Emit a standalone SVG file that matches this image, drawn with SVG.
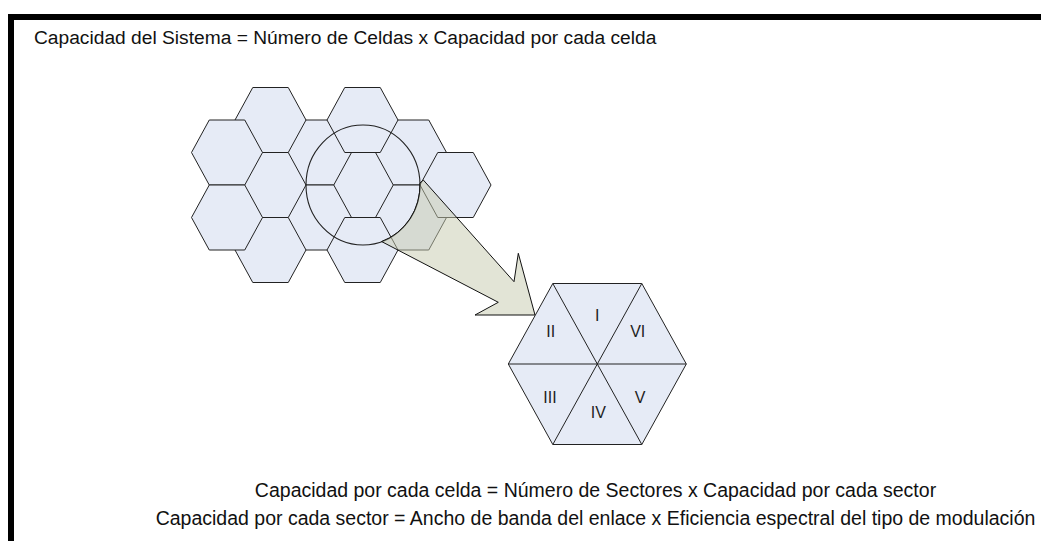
<svg xmlns="http://www.w3.org/2000/svg" xmlns:xlink="http://www.w3.org/1999/xlink" width="1041" height="541" viewBox="0 0 1041 541">
<style>
.hex{fill:#e6ebf6;stroke:#222;stroke-width:1;stroke-linejoin:miter}
.txt{font-family:"Liberation Sans",Arial,sans-serif;font-size:19.5px;fill:#111}
.ttl{font-size:19.2px}
.lbl{font-family:"Liberation Sans",Arial,sans-serif;font-size:16px;fill:#222;text-anchor:middle}
.arrow{fill:#c5c9ad;fill-opacity:0.5;stroke:#111;stroke-width:1;stroke-linejoin:miter}
.ring{fill:none;stroke:#222;stroke-width:1.1}
.frame{fill:none;stroke:#000;stroke-width:6;stroke-linejoin:miter}
</style>
<defs>
<polygon id="hx" points="-35.5,0 -17.75,-32.5 17.75,-32.5 35.5,0 17.75,32.5 -17.75,32.5"/>
</defs>
<rect width="1041" height="541" fill="#fff"/>
<g id="cells">
<g id="cell-d2"><use xlink:href="#hx" href="#hx" class="hex" x="362.5" y="185"/></g>
<g id="cell-c1"><use xlink:href="#hx" href="#hx" class="hex" x="316" y="152.5"/></g>
<g id="cell-c2"><use xlink:href="#hx" href="#hx" class="hex" x="316" y="217.5"/></g>
<g id="cell-e1"><use xlink:href="#hx" href="#hx" class="hex" x="411" y="152.5"/></g>
<g id="cell-e2"><use xlink:href="#hx" href="#hx" class="hex" x="411" y="217.5"/></g>
<g id="cell-d1"><use xlink:href="#hx" href="#hx" class="hex" x="362.5" y="120"/></g>
<g id="cell-d3"><use xlink:href="#hx" href="#hx" class="hex" x="362.5" y="250"/></g>
<g id="cell-b1"><use xlink:href="#hx" href="#hx" class="hex" x="270.5" y="120"/></g>
<g id="cell-b2"><use xlink:href="#hx" href="#hx" class="hex" x="270.5" y="185"/></g>
<g id="cell-b3"><use xlink:href="#hx" href="#hx" class="hex" x="270.5" y="250"/></g>
<g id="cell-a1"><use xlink:href="#hx" href="#hx" class="hex" x="227" y="152.5"/></g>
<g id="cell-a2"><use xlink:href="#hx" href="#hx" class="hex" x="227" y="217.5"/></g>
<g id="cell-f1"><use xlink:href="#hx" href="#hx" class="hex" x="455.5" y="185"/></g>
</g>
<g id="cluster-ring"><ellipse class="ring" cx="363" cy="185" rx="57" ry="60"/></g>
<g id="connectors">
<path class="arrow" d="M423.3,180 L514,281.7 L518.3,253.3 L535,315 L475,315 L498.3,302.3 L381.5,241.5 A57,60 0 0 0 420,183 Z"/>
</g>
<g id="sector-cell">
<polygon class="hex" points="508.3,364 552.8,283.5 641.8,283.5 686.3,364 641.8,444.5 552.8,444.5"/>
<path fill="none" stroke="#222" stroke-width="1" d="M508.3,364 L686.3,364 M552.8,283.5 L641.8,444.5 M641.8,283.5 L552.8,444.5"/>
<text class="lbl" x="597.3" y="320.7">I</text>
<text class="lbl" x="550.7" y="336.7">II</text>
<text class="lbl" x="550" y="402.7">III</text>
<text class="lbl" x="598.3" y="418.3">IV</text>
<text class="lbl" x="640" y="402.7">V</text>
<text class="lbl" x="637.7" y="336.7">VI</text>
</g>
<g id="title"><text class="txt ttl" x="34" y="44">Capacidad del Sistema = Número de Celdas x Capacidad por cada celda</text></g>
<g id="formula-1"><text class="txt" x="595.5" y="497" text-anchor="middle">Capacidad por cada celda = Número de Sectores x Capacidad por cada sector</text></g>
<g id="formula-2"><text class="txt" x="595.5" y="525" text-anchor="middle">Capacidad por cada sector = Ancho de banda del enlace x Eficiencia espectral del tipo de modulación</text></g>
<g id="frame"><path class="frame" d="M11,541 V17 H1041"/></g>
</svg>
